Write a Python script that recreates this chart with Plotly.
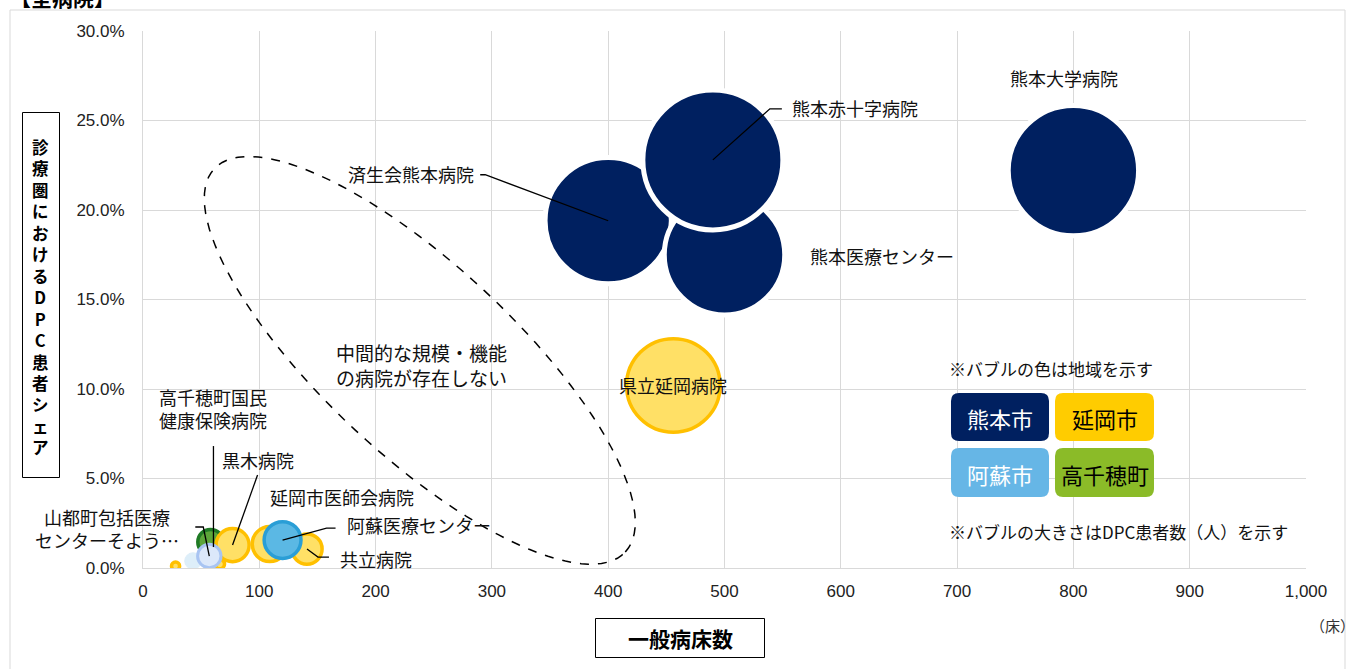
import numpy as np
import plotly.graph_objects as go

# ---------------- data ----------------
hospitals = ["済生会熊本病院", "熊本医療センター", "熊本赤十字病院", "熊本大学病院", "県立延岡病院",
             "延岡市医師会病院", "共立病院", "高千穂町国民健康保険病院", "黒木病院",
             "その他A", "その他B", "その他C", "山都町包括医療センターそよう", "阿蘇医療センター"]
beds = [400, 500, 490, 800, 456, 109, 141, 58, 77, 28, 43, 66, 57, 120]
share = [0.194, 0.175, 0.228, 0.222, 0.102, 0.0134, 0.0106, 0.0145, 0.0128,
         0.0011, 0.0039, 0.0022, 0.0067, 0.0156]
patients = [12200, 11100, 15000, 13000, 6700, 940, 700, 490, 840, 50, 210, 70, 420, 1040]
region = ["熊本市", "熊本市", "熊本市", "熊本市", "延岡市", "延岡市", "延岡市", "高千穂町", "延岡市",
          "延岡市", "その他", "延岡市", "山都町", "阿蘇市"]

x_ticks = list(range(0, 1001, 100))
y_ticks = [0, 0.05, 0.10, 0.15, 0.20, 0.25, 0.30]

# label text, pixel offset from bubble centre, anchor
labels = {
    "熊本赤十字病院": ("熊本赤十字病院", 77, 52, "left"),
    "済生会熊本病院": ("済生会熊本病院", -132, 47, "right"),
    "熊本大学病院": ("熊本大学病院", -9, 93, "center"),
    "熊本医療センター": ("熊本医療センター", 83, -1, "left"),
    "県立延岡病院": ("県立延岡病院", 0, 0, "center"),
    "延岡市医師会病院": ("延岡市医師会病院", 72, 47, "center"),
    "阿蘇医療センター": ("阿蘇医療センター", 62, 15, "left"),
    "共立病院": ("共立病院", 31, -10, "left"),
    "黒木病院": ("黒木病院", 25, 85, "center"),
    "高千穂町国民健康保険病院": ("高千穂町国民<br>健康保険病院", 3, 134, "center"),
    "山都町包括医療センターそよう": ("山都町包括医療<br>センターそよう…", -28, 28, "right"),
}
# leader lines (pixel offsets from bubble centre, y upwards)
leaders = {
    "熊本赤十字病院": "M0,0 L57,51 L69,51",
    "済生会熊本病院": "M0,0 L-123,46 L-128,46",
    "阿蘇医療センター": "M0,0 L44,12 L53,12",
    "共立病院": "M0,0 L11,-8 L22,-8",
    "黒木病院": "M0,0 L25,70",
    "高千穂町国民健康保険病院": "M3,-5 L3,96",
    "山都町包括医療センターそよう": "M0,0 L-6,29 L-14,29",
}

fill = {"熊本市": "#002060", "延岡市": "#FFE066", "阿蘇市": "#5BB8E4", "高千穂町": "#5DA53A",
        "山都町": "#DCE8FA", "その他": "#DDEEF9"}
edge = {"熊本市": "#FFFFFF", "延岡市": "#FFC000", "阿蘇市": "#2A9ED6", "高千穂町": "#1F7A25",
        "山都町": "#A8C4F2", "その他": "#DDEEF9"}
lwid = {"熊本市": 5, "延岡市": 3.5, "阿蘇市": 3.5, "高千穂町": 3.5, "山都町": 3, "その他": 1}

legend_items = [("熊本市", "#002060", "white"), ("延岡市", "#FFCC00", "black"),
                ("阿蘇市", "#66B6E6", "white"), ("高千穂町", "#8BBB28", "black")]

ytitle = "診療圏におけるDPC患者シェア"
xtitle = "一般病床数"

# ---------------- layout geometry ----------------
W, H = 1348, 669
ML, MR, MT, MB = 143, 42, 31, 101
PW, PH = W - ML - MR, H - MT - MB


def pp(xp, yp):
    return (xp - ML) / PW, (H - MB - yp) / PH


def rrect(x0, y0, x1, y1, r):
    def P(a, b):
        u, v = pp(a, b)
        return f"{u:.5f},{v:.5f}"
    return (f"M{P(x0 + r, y0)} L{P(x1 - r, y0)} Q{P(x1, y0)} {P(x1, y0 + r)} "
            f"L{P(x1, y1 - r)} Q{P(x1, y1)} {P(x1 - r, y1)} L{P(x0 + r, y1)} "
            f"Q{P(x0, y1)} {P(x0, y1 - r)} L{P(x0, y0 + r)} Q{P(x0, y0)} {P(x0 + r, y0)} Z")


def box(x0, y0, x1, y1, color="black", fillc=None):
    u0, v0 = pp(x0, y0)
    u1, v1 = pp(x1, y1)
    return dict(type="rect", xref="paper", yref="paper", x0=u0, y0=v1, x1=u1, y1=v0,
                line=dict(color=color, width=1), fillcolor=fillc, layer="above")


FONT = "Noto Sans CJK JP, sans-serif"
NUMFONT = "Liberation Sans, Arial, sans-serif"


def note(xp, yp, text, size, color="#111111", xanchor="center", bold=False, **kw):
    u, v = pp(xp, yp)
    d = dict(x=u, y=v, xref="paper", yref="paper", showarrow=False, xanchor=xanchor,
             yanchor="middle", text=("<b>%s</b>" % text) if bold else text,
             font=dict(family=FONT, size=size, color=color))
    d.update(kw)
    return d


fig = go.Figure()
sizeref = max(patients) / (2 * 70 ** 2)
fig.add_trace(go.Scatter(
    x=beds, y=share, mode="markers", text=hospitals,
    marker=dict(size=patients, sizemode="area", sizeref=sizeref,
                color=[fill[r] for r in region], opacity=1,
                line=dict(color=[edge[r] for r in region], width=[lwid[r] for r in region])),
    hovertemplate="%{text}<br>%{x}床<br>%{y:.1%}<extra></extra>",
    showlegend=False))

annotations = []
shapes = []
for i, h in enumerate(hospitals):
    if h in labels:
        t, dx, dy, anc = labels[h]
        annotations.append(dict(x=beds[i], y=share[i], xref="x", yref="y", text=t, showarrow=False,
                                xshift=dx, yshift=dy, xanchor=anc, yanchor="middle",
                                font=dict(family=FONT, size=18, color="#111111")))
    if h in leaders:
        shapes.append(dict(type="path", xref="x", yref="y", xsizemode="pixel", ysizemode="pixel",
                           xanchor=beds[i], yanchor=share[i], path=leaders[h],
                           line=dict(color="black", width=1.3), layer="above"))

# dashed ellipse (anchored in data space, drawn in pixels)
t = np.linspace(0, 2 * np.pi, 121)
a_, b_, th = 281, 95, np.deg2rad(-43)
ex = a_ * np.cos(t) * np.cos(th) - b_ * np.sin(t) * np.sin(th)
ey = a_ * np.cos(t) * np.sin(th) + b_ * np.sin(t) * np.cos(th)
epath = "M" + " L".join(f"{u:.1f},{v:.1f}" for u, v in zip(ex, ey)) + " Z"
shapes.append(dict(type="path", xref="x", yref="y", xsizemode="pixel", ysizemode="pixel",
                   xanchor=238, yanchor=0.116, path=epath,
                   line=dict(color="black", width=1.5, dash="dash"), layer="above"))

annotations.append(note(421, 365, "中間的な規模・機能<br>の病院が存在しない", 19))

# legend boxes
boxes = [(951, 393, 1049, 441), (1055, 393, 1154, 441), (951, 448, 1049, 497), (1055, 448, 1154, 497)]
for (name, col, tcol), (x0, y0, x1, y1) in zip(legend_items, boxes):
    shapes.append(dict(type="path", xref="paper", yref="paper", path=rrect(x0, y0, x1, y1, 8),
                       fillcolor=col, line=dict(width=0), layer="above"))
    annotations.append(note((x0 + x1) / 2, (y0 + y1) / 2 + 1, name, 22, color=tcol))

annotations.append(note(947, 368, "※バブルの色は地域を示す", 17, xanchor="left"))
annotations.append(note(947, 531, "※バブルの大きさはDPC患者数（人）を示す", 17, xanchor="left"))

# y-axis title: stacked characters in a box
shapes.append(box(22.5, 112.5, 59.5, 477.5, fillc="white"))
annotations.append(note(40.5, 297, "<br>".join(list(ytitle)), 16.5, color="black", bold=True))

# x-axis title
shapes.append(box(595.5, 618.5, 764.5, 657.5, fillc="white"))
annotations.append(note(680, 638, xtitle, 21, color="black", bold=True))

annotations.append(note(1332, 625, "（床）", 15, color="#333333"))
annotations.append(note(62, -3, "【全病院】", 21, color="black", bold=True))

# outer frame
shapes.append(box(10, 10, 1345, 700, color="#D9D9D9"))

fig.update_layout(
    width=W, height=H, margin=dict(l=ML, r=MR, t=MT, b=MB),
    paper_bgcolor="white", plot_bgcolor="white",
    xaxis=dict(range=[0, 1000], tickvals=x_ticks, tickformat=",d", showgrid=True,
               gridcolor="#D9D9D9", gridwidth=1, zeroline=False, showline=True,
               linecolor="#D9D9D9", ticks="", ticklabelstandoff=8,
               tickfont=dict(family=NUMFONT, size=17, color="#222222")),
    yaxis=dict(range=[0, 0.30], tickvals=y_ticks, tickformat=".1%", showgrid=True,
               gridcolor="#D9D9D9", gridwidth=1, zeroline=False, showline=True,
               linecolor="#D9D9D9", ticks="", ticklabelstandoff=14,
               tickfont=dict(family=NUMFONT, size=17, color="#222222")),
    annotations=annotations, shapes=shapes, showlegend=False,
)

fig.write_html("out.html", config={"displayModeBar": False},
               post_script="document.body.style.margin='0';")
